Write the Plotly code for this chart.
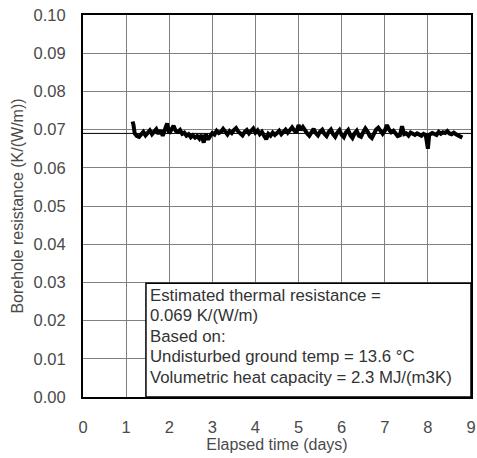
import plotly.graph_objects as go

# Elapsed time (days) and borehole resistance K/(W/m)
days = [1.15,1.17,1.20,1.25,1.30,1.35,1.40,1.45,1.50,1.55,1.60,1.65,1.70,1.75,1.80,1.85,1.90,1.95,
        2.00,2.05,2.10,2.15,2.20,2.25,2.30,2.35,2.40,2.45,2.50,2.55,2.60,2.65,2.70,2.75,2.80,2.85,2.90,2.95,
        3.00,3.05,3.10,3.15,3.20,3.25,3.30,3.35,3.40,3.45,3.50,3.55,3.60,3.65,3.70,3.75,3.80,3.85,3.90,3.95,
        4.00,4.05,4.10,4.15,4.20,4.25,4.30,4.35,4.40,4.45,4.50,4.55,4.60,4.65,4.70,4.75,4.80,4.85,4.90,4.95,
        5.00,5.05,5.10,5.15,5.20,5.25,5.30,5.35,5.40,5.45,5.50,5.55,5.60,5.65,5.70,5.75,5.80,5.85,5.90,5.95,
        6.00,6.05,6.10,6.15,6.20,6.25,6.30,6.35,6.40,6.45,6.50,6.55,6.60,6.65,6.70,6.75,6.80,6.85,6.90,6.95,
        7.00,7.05,7.10,7.15,7.20,7.25,7.30,7.35,7.40,7.45,7.50,7.55,7.60,7.65,7.70,7.75,7.80,7.85,7.90,7.95,
        8.00,8.03,8.10,8.15,8.20,8.25,8.30,8.35,8.40,8.45,8.50,8.55,8.60,8.65,8.70,8.75,8.80]
resistance = [.0721,.0713,.0690,.0683,.0681,.0688,.0694,.0685,.0690,.0698,.0688,.0696,.0701,.0689,.0698,.0684,.0700,.0716,
              .0690,.0702,.0710,.0697,.0694,.0699,.0689,.0692,.0684,.0688,.0680,.0685,.0679,.0683,.0676,.0686,.0666,.0688,.0674,.0683,
              .0691,.0687,.0697,.0691,.0694,.0702,.0693,.0687,.0696,.0691,.0699,.0704,.0695,.0689,.0685,.0694,.0699,.0690,.0696,.0703,
              .0692,.0698,.0688,.0694,.0684,.0675,.0689,.0684,.0692,.0686,.0691,.0697,.0688,.0694,.0700,.0692,.0698,.0706,.0698,.0692,
              .0712,.0699,.0707,.0697,.0690,.0684,.0696,.0702,.0691,.0685,.0695,.0700,.0689,.0683,.0694,.0700,.0688,.0681,.0692,.0699,
              .0686,.0680,.0693,.0699,.0685,.0678,.0690,.0697,.0684,.0681,.0693,.0703,.0695,.0683,.0678,.0689,.0700,.0705,.0695,.0689,
              .0697,.0712,.0700,.0693,.0697,.0690,.0683,.0685,.0709,.0688,.0690,.0684,.0692,.0689,.0686,.0690,.0688,.0684,.0689,.0686,
              .0650,.0686,.0691,.0689,.0686,.0694,.0689,.0693,.0691,.0696,.0690,.0688,.0692,.0688,.0684,.0681,.0679]

estimate = 0.069
x_ticks = [0, 1, 2, 3, 4, 5, 6, 7, 8, 9]
y_ticks = [0.00, 0.01, 0.02, 0.03, 0.04, 0.05, 0.06, 0.07, 0.08, 0.09, 0.10]
box_lines = ["Estimated thermal resistance =",
             "0.069 K/(W/m)",
             "Based on:",
             "Undisturbed ground temp = 13.6 \u00b0C",
             "Volumetric heat capacity = 2.3 MJ/(m3K)"]

FONT = "Liberation Sans, Arial, sans-serif"
TXT = "#4a4a4a"

fig = go.Figure()
fig.add_trace(go.Scatter(x=[0, 9], y=[estimate, estimate], mode="lines",
                         line=dict(color="black", width=1), hoverinfo="skip", showlegend=False))
fig.add_trace(go.Scatter(x=days, y=resistance, mode="lines",
                         line=dict(color="black", width=4), showlegend=False))

# text box
fig.add_shape(type="rect", xref="x", yref="y", x0=1.46, x1=9, y0=0, y1=0.0298,
              fillcolor="white", line=dict(color="black", width=1.5), layer="above")
for i, t in enumerate(box_lines):
    fig.add_annotation(x=1.5, y=0.0267 - i * 0.0054, xref="x", yref="y", text=t,
                       showarrow=False, xanchor="left", yanchor="middle",
                       font=dict(family=FONT, size=16.8, color="#333333"))

fig.update_layout(
    width=477, height=458,
    margin=dict(l=83, r=6, t=15, b=61),
    plot_bgcolor="white", paper_bgcolor="white",
    font=dict(family=FONT, size=16, color=TXT),
    showlegend=False,
)
fig.update_xaxes(range=[0, 9], tickvals=x_ticks, ticktext=[str(v) for v in x_ticks],
                 showgrid=True, gridcolor="#808080", gridwidth=1,
                 showline=True, linecolor="black", linewidth=2, mirror=True,
                 ticks="", ticklabelstandoff=14, zeroline=False, automargin=False,
                 ticklabeloverflow="allow",
                 tickfont=dict(family=FONT, size=16.5, color=TXT),
                 title=dict(text="Elapsed time (days)", standoff=4,
                            font=dict(family=FONT, size=16, color=TXT)))
fig.update_yaxes(range=[0, 0.10], tickvals=y_ticks, ticktext=[f"{v:.2f}" for v in y_ticks],
                 showgrid=True, gridcolor="#808080", gridwidth=1,
                 showline=True, linecolor="black", linewidth=2, mirror=True,
                 ticks="", ticklabelstandoff=12, zeroline=False, automargin=False,
                 ticklabeloverflow="allow",
                 tickfont=dict(family=FONT, size=16.5, color=TXT),
                 title=dict(text="Borehole resistance (K/(W/m))", standoff=6,
                            font=dict(family=FONT, size=16, color=TXT)))

fig.write_html("out.html", config={"displayModeBar": False},
               post_script="document.body.style.margin='0';")
